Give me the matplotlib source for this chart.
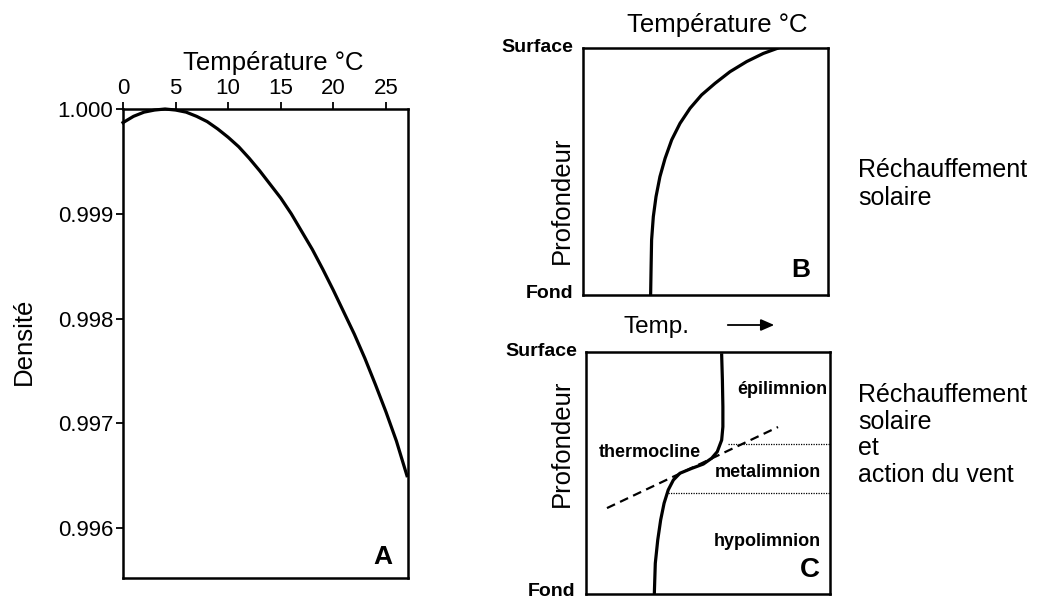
import numpy as np
import matplotlib
matplotlib.use("Agg")
import matplotlib.pyplot as plt

plt.rcParams["font.family"] = ["Liberation Sans", "DejaVu Sans"]

# A : densité de l'eau selon la température
temp_a = list(range(0, 28))
dens_a = [0.99987, 0.99993, 0.99997, 0.99999, 1.00000, 0.99999, 0.99997, 0.99993,
          0.99988, 0.99981, 0.99973, 0.99964, 0.99953, 0.99941, 0.99928, 0.99915,
          0.99900, 0.99883, 0.99866, 0.99847, 0.99827, 0.99806, 0.99785, 0.99762,
          0.99737, 0.99711, 0.99683, 0.99650]
xticks_a = [0, 5, 10, 15, 20, 25]
yticks_a = [0.996, 0.997, 0.998, 0.999, 1.000]

# B : profil réchauffement solaire (x = temp. relative, d = profondeur relative)
x_b = [0.276, 0.278, 0.280, 0.287, 0.298, 0.314, 0.335, 0.362, 0.396, 0.437,
       0.484, 0.539, 0.600, 0.668, 0.736, 0.797]
d_b = [1.0, 0.885, 0.777, 0.683, 0.602, 0.521, 0.447, 0.372, 0.305, 0.244,
       0.190, 0.143, 0.096, 0.055, 0.022, 0.0]

# C : profil avec thermocline
x_c = [0.556, 0.559, 0.561, 0.561, 0.556, 0.538, 0.515, 0.481, 0.433, 0.385,
       0.358, 0.337, 0.320, 0.306, 0.294, 0.284, 0.280]
d_c = [0.012, 0.116, 0.226, 0.309, 0.364, 0.412, 0.439, 0.463, 0.481, 0.501,
       0.529, 0.570, 0.625, 0.694, 0.777, 0.873, 1.0]
thermo_x = [0.086, 0.787]
thermo_d = [0.645, 0.31]
limites = [(0.582, 0.38), (0.336, 0.583)]  # (x début, profondeur)
couches = [("épilimnion", 0.803, 0.157), ("thermocline", 0.262, 0.417),
           ("metalimnion", 0.746, 0.496), ("hypolimnion", 0.742, 0.785)]

W, H = 1042, 600
fig = plt.figure(figsize=(W / 100, H / 100), dpi=100)


def ax_px(l, t, r, b):
    return fig.add_axes([l / W, 1 - b / H, (r - l) / W, (b - t) / H])


def ftext(x, y, s, **kw):
    return fig.text(x / W, 1 - y / H, s, **kw)


for_spines = dict(linewidth=1.8, color="black")

# ---- panel A
ax = ax_px(123, 109, 408, 578)
ax.plot(temp_a, dens_a, color="black", lw=2.3, clip_on=False)
ax.set_xlim(0, 27.1)
ax.set_ylim(0.995523, 1.0)
ax.xaxis.tick_top()
ax.set_xticks(xticks_a)
ax.set_yticks(yticks_a)
ax.set_yticklabels(["%.3f" % v for v in yticks_a])
ax.tick_params(direction="out", length=5, width=1.3, labelsize=16, pad=2)
for s in ax.spines.values():
    s.set(**for_spines)
ax.text(0.91, 0.045, "A", transform=ax.transAxes, ha="center", va="center",
        fontsize=19, fontweight="bold")
ftext(273, 63, "Température °C", ha="center", va="center", fontsize=18.5)
ftext(24, 341, "Densité", ha="center", va="center", rotation=90, fontsize=18.5)

# ---- panel B
axb = ax_px(583, 48, 828, 295)
axb.plot(x_b, d_b, color="black", lw=2.3)
axb.set_xlim(0, 1)
axb.set_ylim(1, 0)
axb.set_xticks([])
axb.set_yticks([])
for s in axb.spines.values():
    s.set(**for_spines)
axb.text(0.89, 0.1, "B", transform=axb.transAxes, ha="center", va="center",
         fontsize=19, fontweight="bold")
ftext(717, 25, "Température °C", ha="center", va="center", fontsize=18.5)
ftext(573, 48, "Surface", ha="right", va="center", fontsize=14, fontweight="bold")
ftext(573, 293, "Fond", ha="right", va="center", fontsize=14, fontweight="bold")
ftext(562, 200, "Profondeur", ha="center", va="center", rotation=90, fontsize=18.5)

# ---- panel C
axc = ax_px(586, 352, 830, 594)
axc.plot(x_c, d_c, color="black", lw=2.3)
axc.plot(thermo_x, thermo_d, color="black", lw=1.6, ls=(0, (4, 2.5)))
for x0, d0 in limites:
    axc.plot([x0, 1], [d0, d0], color="black", lw=0.9, ls=(0, (1, 1)))
for nom, xx, dd in couches:
    axc.text(xx, dd, nom, ha="center", va="center", fontsize=13, fontweight="bold")
axc.text(0.918, 0.9, "C", ha="center", va="center", fontsize=20, fontweight="bold")
axc.set_xlim(0, 1)
axc.set_ylim(1, 0)
axc.set_xticks([])
axc.set_yticks([])
for s in axc.spines.values():
    s.set(**for_spines)
ftext(577, 351, "Surface", ha="right", va="center", fontsize=14, fontweight="bold")
ftext(575, 592, "Fond", ha="right", va="center", fontsize=14, fontweight="bold")
ftext(562, 443, "Profondeur", ha="center", va="center", rotation=90, fontsize=18.5)
ftext(623, 333, "Temp.", ha="left", va="baseline", fontsize=17.5)
fig.add_artist(matplotlib.patches.FancyArrowPatch(
    (725 / W, 1 - 325 / H), (777 / W, 1 - 325 / H), transform=fig.transFigure,
    arrowstyle="-|>,head_length=8,head_width=3.5", color="black", lw=1.3))

# ---- textes de droite
for i, ligne in enumerate(["Réchauffement", "solaire"]):
    ftext(858, 177 + i * 28, ligne, ha="left", va="baseline", fontsize=18)
for i, ligne in enumerate(["Réchauffement", "solaire", "et", "action du vent"]):
    ftext(858, 402 + i * 26.7, ligne, ha="left", va="baseline", fontsize=18)

fig.savefig("out.png", dpi=100)
